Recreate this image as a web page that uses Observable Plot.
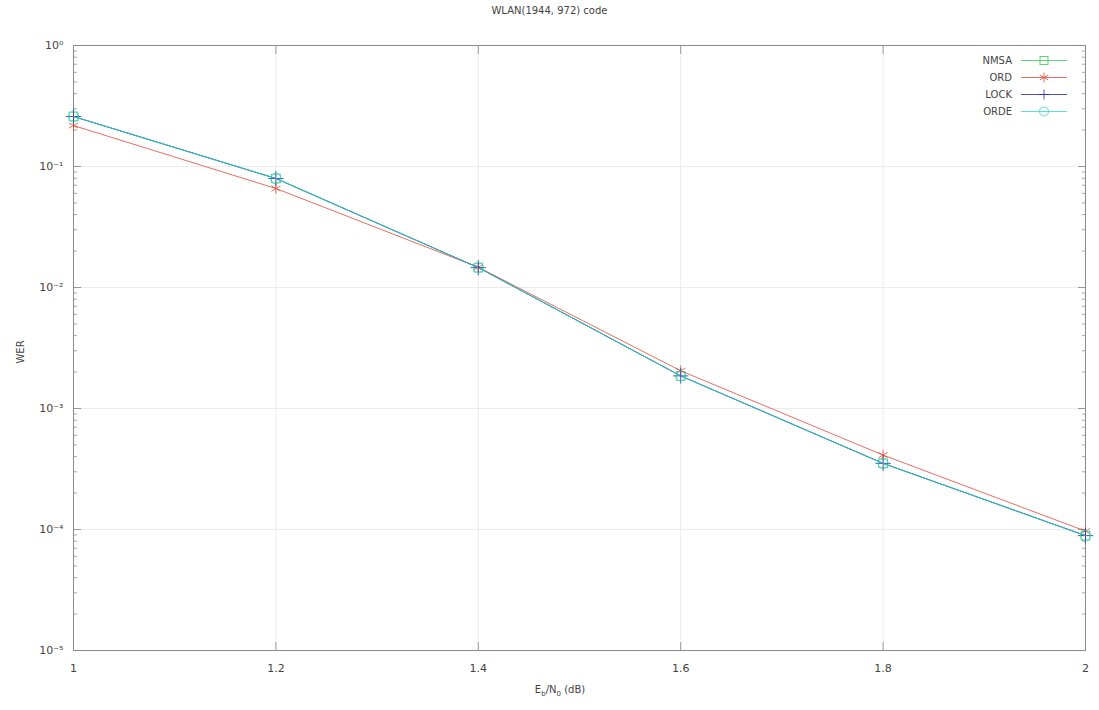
<!DOCTYPE html>
<html>
<head>
<meta charset="utf-8">
<script src="https://cdn.jsdelivr.net/npm/d3@7"></script>
<script src="https://cdn.jsdelivr.net/npm/@observablehq/plot@0.6"></script>
<style>
  body { margin: 0; background: #fff; }
  #wrap { position: relative; width: 1099px; height: 710px; font-family: "DejaVu Sans", sans-serif; color: #444; }
  #wrap > svg { position: absolute; left: 0; top: 0; }
  .ov { position: absolute; font-size: 10px; color: #444; white-space: nowrap; }
</style>
</head>
<body>
<div id="wrap">
  <div class="ov" id="title" style="left:0;width:1099px;top:5px;text-align:center;">WLAN(1944, 972) code</div>
  <div class="ov" id="ylabel" style="left:20px;top:352px;transform:translate(-50%,-50%) rotate(-90deg);">WER</div>
  <div class="ov" id="xlabel" style="left:560px;top:684px;transform:translateX(-50%);">E<sub style="font-size:7px">b</sub>/N<sub style="font-size:7px">0</sub> (dB)</div>
  <div id="legend" style="position:absolute;left:950px;top:52px;"></div>
</div>
<script>
const snr = [1, 1.2, 1.4, 1.6, 1.8, 2];
const nmsa = [0.259, 0.0796, 0.0146, 0.00186, 0.000352, 0.000089];
const ord  = [0.218, 0.0658, 0.0147, 0.00205, 0.000412, 0.000097];
const lock = [0.259, 0.0796, 0.0146, 0.00186, 0.000352, 0.000089];
const orde = [0.259, 0.0796, 0.0146, 0.00186, 0.000352, 0.000089];

const seriesNames = ["NMSA", "ORD", "LOCK", "ORDE"];
const seriesValues = [nmsa, ord, lock, orde];
const seriesColors = ["#33cc55", "#e04a3a", "#2a2aa8", "#33d6d6"];
const seriesSymbols = ["square", "asterisk", "plus", "circle"];

const yMajor = [1e-5, 1e-4, 1e-3, 1e-2, 1e-1, 1];
const yMinor = [];
for (let e = -5; e < 0; e++) for (let m = 2; m <= 9; m++) yMinor.push(m * Math.pow(10, e));
const xTicks = [1, 1.2, 1.4, 1.6, 1.8, 2];

const sup = {"-": "\u207B", "0": "\u2070", "1": "\u00B9", "2": "\u00B2", "3": "\u00B3", "4": "\u2074", "5": "\u2075"};
const fmtPow = v => "10" + String(Math.round(Math.log10(v))).split("").map(c => sup[c]).join("");

const rows = [];
seriesNames.forEach((s, i) => snr.forEach((x, j) => rows.push({series: s, x, y: seriesValues[i][j]})));

const marks = [
  Plot.gridX(xTicks, {stroke: "#ececec", strokeOpacity: 1}),
  Plot.gridY(yMajor, {stroke: "#ececec", strokeOpacity: 1}),
  // inward minor ticks (shifted inside the frame)
  Plot.axisY(yMinor, {anchor: "left", tickSize: 4, dx: 4, text: null, stroke: "#aaa", label: null}),
  Plot.axisY(yMinor, {anchor: "right", tickSize: 4, dx: -4, text: null, stroke: "#aaa", label: null}),
  // inward major ticks
  Plot.axisY(yMajor, {anchor: "left", tickSize: 8, dx: 8, text: null, stroke: "#999", label: null}),
  Plot.axisY(yMajor, {anchor: "right", tickSize: 8, dx: -8, text: null, stroke: "#999", label: null}),
  Plot.axisX(xTicks, {anchor: "bottom", tickSize: 8, dy: -8, text: null, stroke: "#999", label: null}),
  Plot.axisX(xTicks, {anchor: "top", tickSize: 8, dy: 8, text: null, stroke: "#999", label: null}),
  // labels
  Plot.axisY(yMajor, {anchor: "left", tickSize: 0, tickPadding: 10, tickFormat: fmtPow, fill: "#444", fontSize: 11, label: null}),
  Plot.axisX(xTicks, {anchor: "bottom", tickSize: 0, tickPadding: 14, tickFormat: d => String(d), fill: "#444", fontSize: 11, label: null}),
  Plot.frame({stroke: "#8a8a8a"})
];
seriesNames.forEach((s, i) => {
  const d = rows.filter(r => r.series === s);
  marks.push(Plot.line(d, {x: "x", y: "y", stroke: seriesColors[i], strokeWidth: 1, strokeOpacity: 0.8}));
  marks.push(Plot.dot(d, {x: "x", y: "y", stroke: seriesColors[i], symbol: seriesSymbols[i], r: 5, strokeWidth: 1, strokeOpacity: 0.8}));
});

const chart = Plot.plot({
  width: 1099,
  height: 710,
  marginLeft: 73,
  marginRight: 14,
  marginTop: 45,
  marginBottom: 60,
  style: {fontFamily: "DejaVu Sans", fontSize: "11px", background: "transparent"},
  x: {domain: [1, 2], axis: null},
  y: {type: "log", domain: [1e-5, 1], axis: null},
  marks
});
document.getElementById("wrap").insertBefore(chart, document.getElementById("title"));

// legend
const leg = document.getElementById("legend");
const symPaths = {
  square: '<rect x="-4" y="-4" width="8" height="8" fill="none"/>',
  asterisk: '<path d="M0,-5V5M-4.3,-2.5L4.3,2.5M-4.3,2.5L4.3,-2.5" fill="none"/>',
  plus: '<path d="M0,-5V5M-5,0H5" fill="none"/>',
  circle: '<circle r="4.5" fill="none"/>'
};
seriesNames.forEach((s, i) => {
  const row = document.createElement("div");
  row.style.cssText = "display:flex;align-items:center;height:17px;";
  row.innerHTML = `<span style="display:inline-block;width:62px;text-align:right;font-size:10px;color:#444;">${s}</span>` +
    `<svg width="50" height="17" style="margin-left:9px;display:block"><g stroke="${seriesColors[i]}" stroke-width="1" stroke-opacity="0.8">` +
    `<line x1="0" y1="8.5" x2="46" y2="8.5"/><g transform="translate(23,8.5)">${symPaths[seriesSymbols[i]]}</g></g></svg>`;
  leg.appendChild(row);
});
</script>
</body>
</html>
